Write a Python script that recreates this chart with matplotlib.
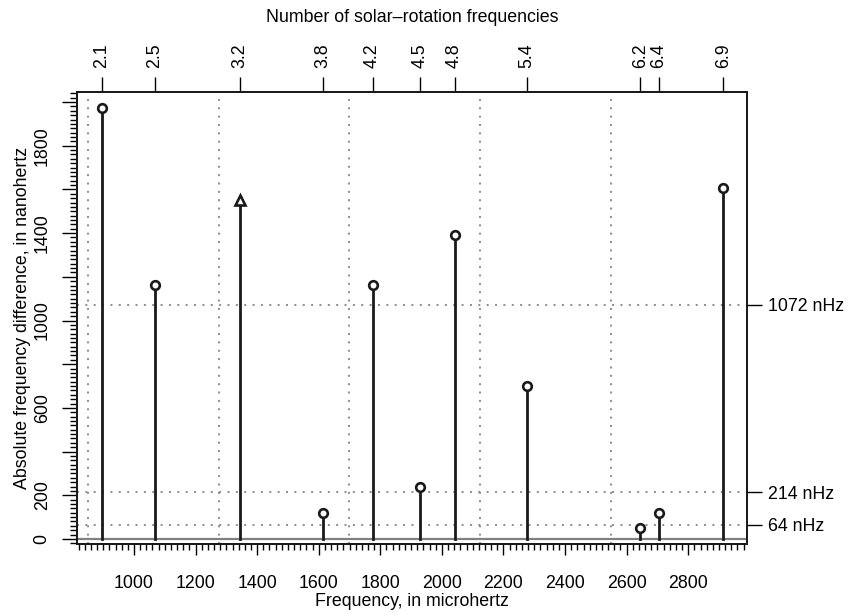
import numpy as np
import matplotlib
matplotlib.use('Agg')
import matplotlib.pyplot as plt
from matplotlib.ticker import FixedLocator, MultipleLocator, FuncFormatter

plt.rcParams['font.family'] = ['Liberation Sans', 'DejaVu Sans']

# frecuencias (microhertz) y diferencias absolutas (nanohertz)
freq = [895, 1068, 1344, 1613, 1775, 1928, 2041, 2275, 2645, 2704, 2914]
diff = [1971, 1162, 1551, 119, 1162, 237, 1391, 700, 52, 118, 1606]
n_rot = ['2.1', '2.5', '3.2', '3.8', '4.2', '4.5', '4.8', '5.4', '6.2', '6.4', '6.9']
marca = ['o', 'o', '^', 'o', 'o', 'o', 'o', 'o', 'o', 'o', 'o']

# lineas punteadas verticales (multiplos de la rotacion solar)
rot_freq = [851, 1275, 1697, 2123, 2548]
# lineas de referencia horizontales
ref_y = [1072, 214, 64]
ref_labels = ['1072 nHz', '214 nHz', '64 nHz']

y_labeled = [0, 200, 600, 1000, 1400, 1800]

fs = 12.8
fig = plt.figure(figsize=(8.51, 6.11), dpi=100)
ax = fig.add_axes([0.0905, 0.1097, 0.7873, 0.7397])
ax.set_xlim(815, 2991)
ax.set_ylim(-23, 2046)

dots = (0, (1, 3.3))
for x in rot_freq:
    ax.axvline(x, color='#8c8c8c', lw=1.4, ls=dots, zorder=1)
for y in ref_y:
    ax.axhline(y, color='#8c8c8c', lw=1.4, ls=dots, zorder=1)

ax.axhline(0, color='#808080', lw=1.6, zorder=2)

for f, d, m in zip(freq, diff, marca):
    ax.plot([f, f], [0, d], color='#1a1a1a', lw=2, zorder=3)
    ax.plot(f, d, marker=m, ms=6.8 if m == '^' else 6.2, mfc='white', mec='#1a1a1a',
            mew=1.9, zorder=4, ls='none')

# eje x inferior
ax.xaxis.set_major_locator(FixedLocator(np.arange(1000, 2801, 200)))
ax.xaxis.set_minor_locator(MultipleLocator(20))
ax.tick_params(axis='x', which='major', length=8, width=1, labelsize=fs, pad=14, top=False)
ax.tick_params(axis='x', which='minor', length=4, width=1, top=False)
ax.set_xlabel('Frequency, in microhertz', fontsize=fs, labelpad=1)

# eje y izquierdo
ax.yaxis.set_major_locator(FixedLocator(np.arange(0, 2001, 200)))
ax.yaxis.set_minor_locator(MultipleLocator(20))
ax.yaxis.set_major_formatter(FuncFormatter(lambda v, p: str(int(v)) if int(round(v)) in y_labeled else ''))
ax.tick_params(axis='y', which='major', length=11, width=1, labelsize=fs, pad=8, right=False)
ax.tick_params(axis='y', which='minor', length=5, width=1, right=False)
for lab in ax.get_yticklabels():
    lab.set_rotation(90)
    lab.set_va('center')
ax.set_ylabel('Absolute frequency difference, in nanohertz', fontsize=fs, labelpad=2)

# eje superior: numero de frecuencias de rotacion solar
axt = ax.twiny()
axt.set_xlim(ax.get_xlim())
axt.set_xticks(freq)
axt.set_xticklabels(n_rot, rotation=90, fontsize=fs)
axt.tick_params(axis='x', length=11, width=1, pad=6)
axt.set_xlabel('Number of solar\u2013rotation frequencies', fontsize=fs, labelpad=16)

# eje derecho: lineas de referencia
axr = ax.twinx()
axr.set_ylim(ax.get_ylim())
axr.set_yticks(ref_y)
axr.set_yticklabels(ref_labels, fontsize=fs)
axr.tick_params(axis='y', length=11, width=1, pad=4)

for a in (ax, axt, axr):
    for s in a.spines.values():
        s.set_linewidth(1.2)
        s.set_color('#1a1a1a')

fig.savefig('out.png', dpi=100)
